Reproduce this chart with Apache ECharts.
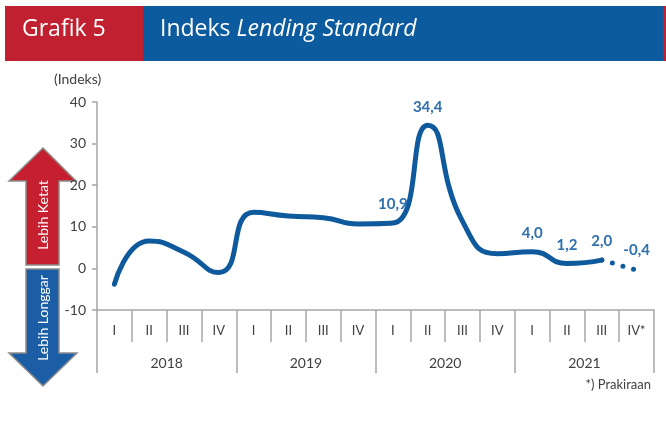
<!DOCTYPE html>
<html>
<head>
<meta charset="utf-8">
<script src="https://cdn.jsdelivr.net/npm/echarts@6/dist/echarts.min.js"></script>
<style>html,body{margin:0;padding:0;background:#fff}#c{width:666px;height:425px}</style>
</head>
<body>
<div id="c"></div>
<script>
var quarters = ['I','II','III','IV','I','II','III','IV','I','II','III','IV','I','II','III','IV*'];
var years = ['2018','2019','2020','2021'];
var actual = [-3.8, 6.6, 3.9, -1.0, 13.5, 12.6, 12.2, 10.7, 10.9, 34.4, 11.3, 3.5, 4.0, 1.2, 2.0, null];
var forecast = [null, null, null, null, null, null, null, null, null, null, null, null, null, null, 2.0, -0.4];
var labeledIdx = [8, 9, 12, 13, 14];
var forecastLabeledIdx = [15];
var yTicks = {min: -10, max: 40, interval: 10};

function fmt(v){ return v.toFixed(1).replace('.', ','); }

var chart = echarts.init(document.getElementById('c'), null, {renderer:'canvas'});
var FONT = 'Lato';
var LINE = '#0e5a9d';
var LBL = '#2f6fad';
var AX = '#a6a6a6';
var TXT = '#404040';
var CLEAR = 'rgba(0,0,0,0)';

function labelled(arr, idx){
  return arr.map(function(v, i){
    var on = idx.indexOf(i) >= 0;
    return {value: v, label: {show: on}};
  });
}

var labelCfg = {show: false, position: 'top', fontFamily: FONT, fontWeight: 'bold', fontSize: 15, color: LBL,
  formatter: function(p){ return fmt(p.value); }};

var option = {
  animation: false,
  grid: {left: 97, right: 12, top: 102, bottom: 115},
  xAxis: [{
    type: 'category', data: quarters, position: 'bottom',
    axisLine: {onZero: false, lineStyle: {color: AX, width: 1.5}},
    axisTick: {show: true, interval: 0, length: 32, lineStyle: {color: AX, width: 1.5}},
    axisLabel: {interval: 0, margin: 14, fontFamily: FONT, fontSize: 13, color: TXT}
  }, {
    type: 'category', data: years, position: 'bottom',
    axisLine: {show: false, onZero: false},
    axisTick: {show: true, interval: 0, length: 63, lineStyle: {color: AX, width: 1.5}},
    axisLabel: {interval: 0, margin: 46, fontFamily: FONT, fontSize: 14, color: TXT}
  }],
  yAxis: {
    type: 'value', min: yTicks.min, max: yTicks.max, interval: yTicks.interval,
    splitLine: {show: false},
    axisLine: {show: true, lineStyle: {color: AX, width: 1.5}},
    axisTick: {show: true, length: 5, lineStyle: {color: AX, width: 1.5}},
    axisLabel: {margin: 11, fontFamily: FONT, fontSize: 14, color: TXT}
  },
  series: [{
    type: 'line', xAxisIndex: 0,
    data: labelled(actual, labeledIdx),
    smooth: 0.55, showSymbol: true, symbol: 'circle', symbolSize: 2,
    itemStyle: {color: CLEAR, borderColor: CLEAR, borderWidth: 0},
    lineStyle: {color: LINE, width: 5, cap: 'round', join: 'round'},
    label: Object.assign({}, labelCfg, {distance: 10}),
    emphasis: {disabled: true},
    z: 3
  }, {
    type: 'line', xAxisIndex: 0,
    data: labelled(forecast, forecastLabeledIdx),
    showSymbol: true, symbol: 'circle', symbolSize: 2,
    itemStyle: {color: CLEAR, borderColor: CLEAR, borderWidth: 0},
    lineStyle: {color: LINE, width: 5, type: [0, 11], cap: 'round'},
    label: Object.assign({}, labelCfg, {distance: 11}),
    emphasis: {disabled: true},
    z: 2
  }],
  graphic: [
    {type: 'rect', shape: {x: 5, y: 6, width: 138, height: 55}, style: {fill: '#c0202f'}},
    {type: 'rect', shape: {x: 143, y: 6, width: 520, height: 55}, style: {fill: '#0b5b9e'}},
    {type: 'rect', shape: {x: 663, y: 6, width: 3, height: 55}, style: {fill: '#c0202f'}},
    {type: 'text', left: 22, top: 18, style: {text: 'Grafik 5', fill: '#fff', font: '23px "Open Sans"'}},
    {type: 'text', left: 160, top: 18, style: {
      text: '{n|Indeks }{i|Lending Standard}', fill: '#fff',
      rich: {n: {fill: '#fff', fontFamily: 'Open Sans', fontSize: 23},
             i: {fill: '#fff', fontFamily: 'Open Sans', fontSize: 23, fontStyle: 'italic'}}
    }},
    {type: 'text', left: 54, top: 72, style: {text: '(Indeks)', fill: TXT, font: '14px Lato'}},
    {type: 'polygon', shape: {points: [[43,148],[76,181],[59,181],[59,265],[26,265],[26,181],[9,181]]},
      style: {fill: '#c61f30', stroke: '#8c8c8c', lineWidth: 1.5}},
    {type: 'polygon', shape: {points: [[26,269],[59,269],[59,353],[77,353],[43,386],[9,353],[26,353]]},
      style: {fill: '#1c5ea6', stroke: '#8c8c8c', lineWidth: 1.5}},
    {type: 'text', x: 43, y: 215, rotation: Math.PI/2, style: {text: 'Lebih Ketat', fill: '#fff', font: '14px Lato', align: 'center', verticalAlign: 'middle'}},
    {type: 'text', x: 43, y: 318, rotation: Math.PI/2, style: {text: 'Lebih Longgar', fill: '#fff', font: '14px Lato', align: 'center', verticalAlign: 'middle'}},
    {type: 'text', right: 15, top: 378, style: {text: '*) Prakiraan', fill: TXT, font: '13px Lato'}}
  ]
};
chart.setOption(option);
</script>
</body>
</html>
